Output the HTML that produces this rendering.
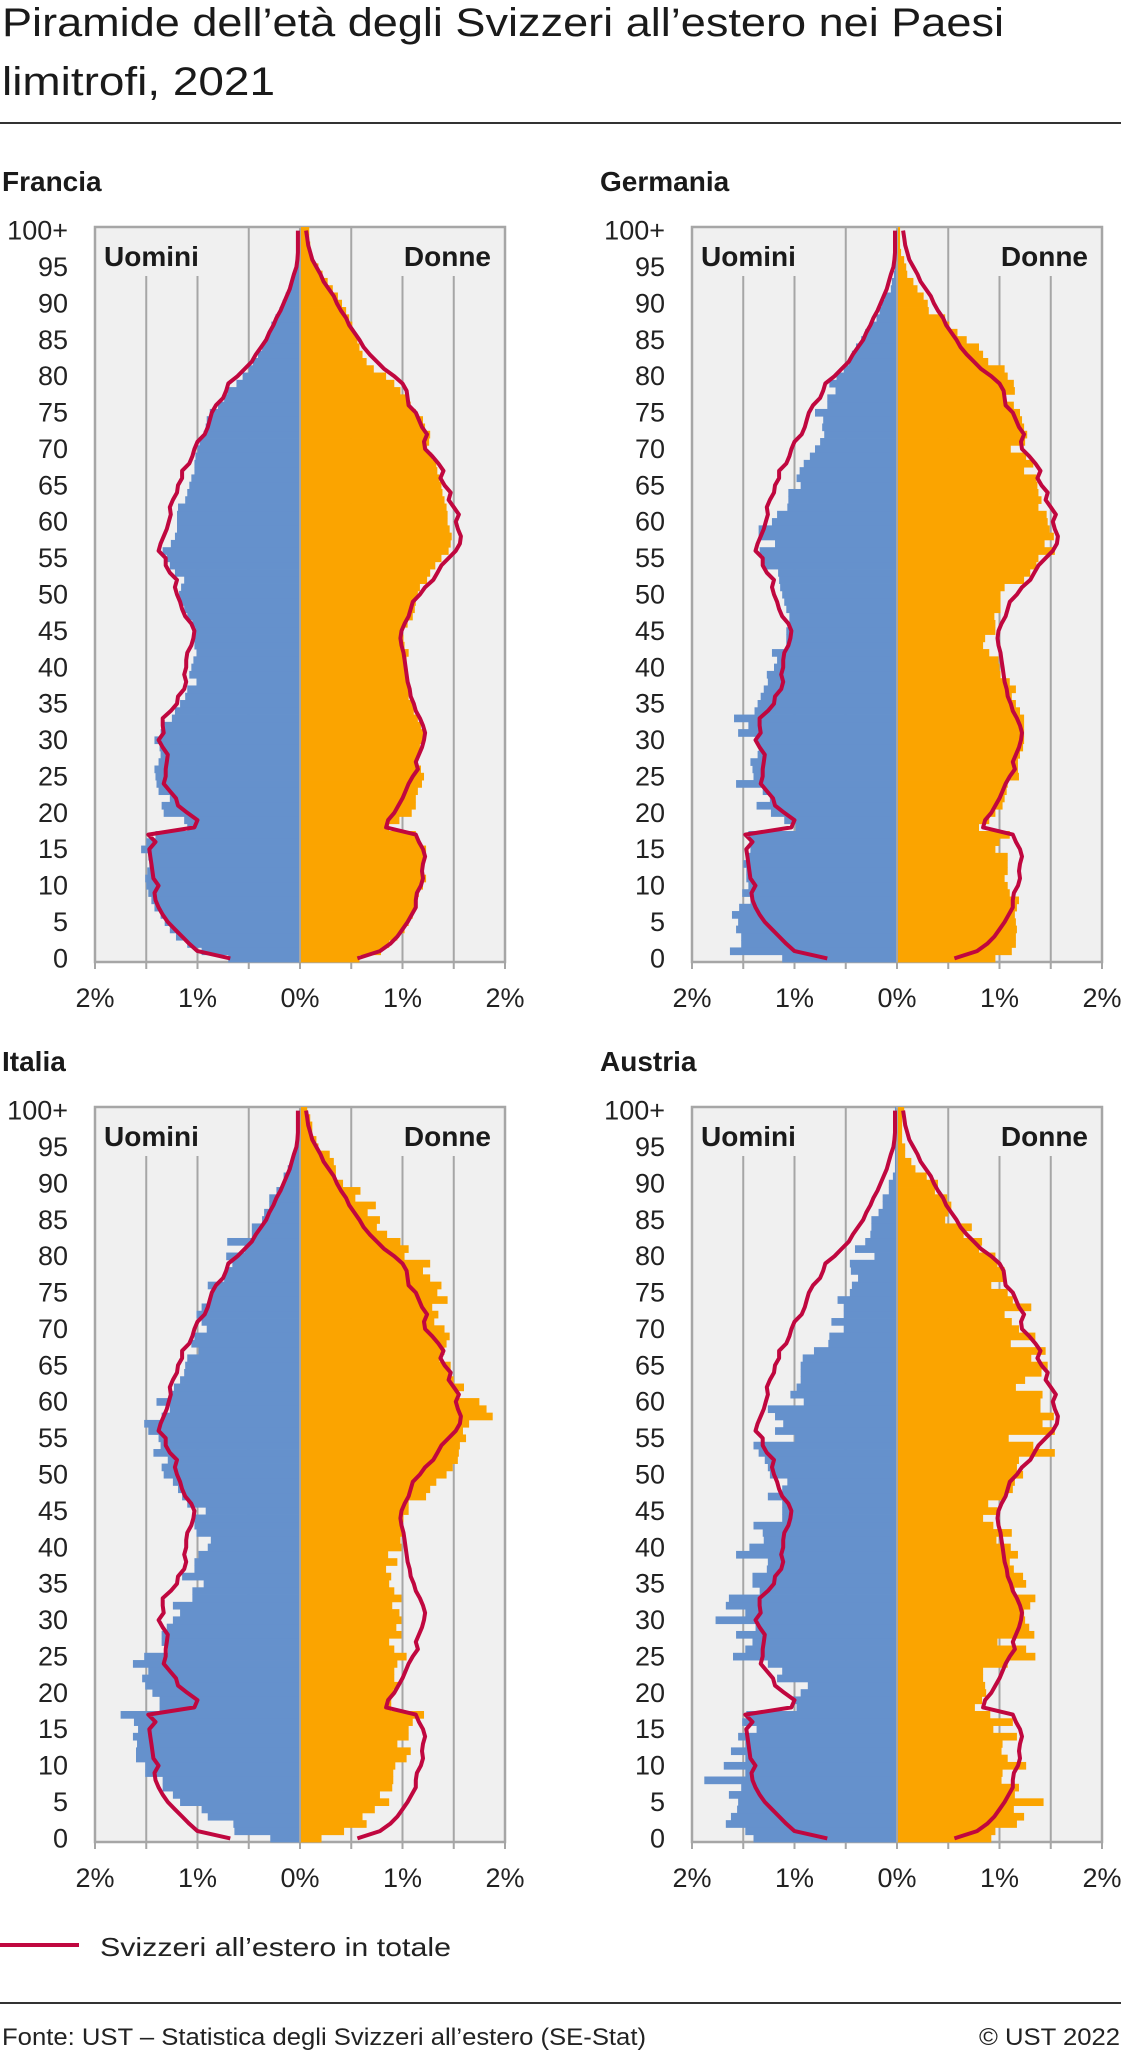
<!DOCTYPE html>
<html><head><meta charset="utf-8">
<style>
html,body{margin:0;padding:0;background:#fff;}
svg{display:block;font-family:"Liberation Sans",sans-serif;}
</style></head>
<body>
<svg id="chart" xmlns="http://www.w3.org/2000/svg" width="1121" height="2054" viewBox="0 0 1121 2054">
<text x="2" y="36" font-size="40" fill="#1a1a1a" textLength="1002" lengthAdjust="spacingAndGlyphs">Piramide dell’età degli Svizzeri all’estero nei Paesi</text>
<text x="2" y="95" font-size="40" fill="#1a1a1a" textLength="273" lengthAdjust="spacingAndGlyphs">limitrofi, 2021</text>
<rect x="0" y="122" width="1121" height="2" fill="#333"/>
<g id="panels"></g>
<rect x="0" y="1943" width="79" height="4" fill="#c0073f"/>
<text x="100" y="1956" font-size="26" fill="#222" textLength="351" lengthAdjust="spacingAndGlyphs">Svizzeri all’estero in totale</text>
<rect x="0" y="2002" width="1121" height="2" fill="#333"/>
<text x="2" y="2045" font-size="24" fill="#222" textLength="644" lengthAdjust="spacingAndGlyphs">Fonte: UST – Statistica degli Svizzeri all’estero (SE-Stat)</text>
<text x="1120" y="2045" font-size="24" fill="#222" text-anchor="end" textLength="141" lengthAdjust="spacingAndGlyphs">© UST 2022</text>
</svg>
<script>
// ages 0..100 (last = 100+)
const panelNames = ["Francia","Germania","Italia","Austria"];
const xTickLabels = ["2%","1%","0%","1%","2%"];
const xTickValues = [-2,-1,0,1,2];
const yTickAges = [0,5,10,15,20,25,30,35,40,45,50,55,60,65,70,75,80,85,90,95,100];
const yTickLabels = ["0","5","10","15","20","25","30","35","40","45","50","55","60","65","70","75","80","85","90","95","100+"];

const totalMen = [.68,1.0,1.08,1.15,1.22,1.29,1.34,1.38,1.41,1.42,1.38,1.43,1.44,1.45,1.46,1.47,1.41,1.48,1.03,1.00,1.10,1.19,1.21,1.27,1.33,1.31,1.31,1.30,1.29,1.34,1.38,1.33,1.34,1.34,1.26,1.20,1.19,1.13,1.11,1.13,1.11,1.11,1.10,1.06,1.04,1.03,1.06,1.12,1.15,1.17,1.20,1.22,1.20,1.27,1.31,1.31,1.38,1.36,1.33,1.30,1.28,1.26,1.27,1.24,1.20,1.19,1.15,1.15,1.08,1.05,1.03,1.0,.93,.90,.88,.86,.82,.75,.72,.70,.61,.54,.47,.43,.38,.33,.30,.26,.23,.19,.16,.13,.10,.08,.06,.035,.025,.02,.02,.02,.02];
const totalWomen = [.56,.78,.88,.95,1.0,1.05,1.09,1.13,1.13,1.14,1.18,1.20,1.19,1.20,1.22,1.20,1.16,1.13,.84,.86,.92,.96,1.0,1.03,1.06,1.10,1.15,1.13,1.16,1.19,1.21,1.22,1.20,1.17,1.13,1.11,1.08,1.07,1.05,1.04,1.03,1.02,1.01,.99,.98,.99,1.02,1.06,1.08,1.10,1.17,1.22,1.30,1.34,1.38,1.45,1.52,1.56,1.57,1.54,1.52,1.55,1.50,1.45,1.47,1.41,1.37,1.40,1.35,1.29,1.22,1.21,1.24,1.19,1.16,1.13,1.06,1.05,1.04,1.0,.92,.82,.75,.68,.62,.58,.53,.48,.45,.40,.36,.33,.28,.23,.20,.16,.12,.10,.08,.07,.06];

const franceMen = [.70,.96,1.10,1.21,1.27,1.32,1.36,1.42,1.45,1.48,1.50,1.51,1.49,1.47,1.48,1.55,1.50,1.41,1.10,1.13,1.33,1.35,1.27,1.38,1.40,1.41,1.42,1.38,1.36,1.37,1.42,1.36,1.33,1.25,1.22,1.17,1.12,1.10,1.01,1.08,1.06,1.04,1.01,1.03,1.03,1.02,1.05,1.10,1.13,1.17,1.18,1.16,1.13,1.22,1.27,1.30,1.34,1.26,1.22,1.20,1.20,1.20,1.19,1.12,1.10,1.08,1.06,1.03,1.03,1.02,1.00,.98,.94,.92,.91,.88,.80,.74,.71,.62,.56,.50,.46,.41,.37,.33,.30,.28,.24,.20,.17,.14,.11,.08,.06,.04,.03,.02,.02,.01,.01];
const franceWomen = [.58,.79,.87,.95,1.02,1.06,1.10,1.13,1.14,1.16,1.20,1.23,1.21,1.20,1.22,1.23,1.16,1.13,.87,.97,1.09,1.13,1.13,1.15,1.19,1.21,1.18,1.15,1.16,1.17,1.20,1.22,1.18,1.15,1.11,1.10,1.06,1.06,1.06,1.04,1.02,1.04,1.06,1.02,1.01,1.00,1.05,1.10,1.12,1.13,1.15,1.17,1.24,1.27,1.32,1.38,1.45,1.47,1.48,1.46,1.44,1.44,1.43,1.41,1.39,1.38,1.36,1.34,1.33,1.29,1.24,1.26,1.27,1.22,1.20,1.13,1.08,1.05,.98,.92,.84,.72,.65,.61,.58,.56,.53,.51,.48,.45,.41,.37,.32,.27,.22,.18,.13,.11,.10,.09,.09];
const germanyMen = [1.12,1.63,1.52,1.52,1.57,1.55,1.61,1.54,1.43,1.51,1.45,1.47,1.47,1.50,1.47,1.43,1.44,1.45,.99,1.10,1.23,1.37,1.24,1.31,1.57,1.40,1.41,1.43,1.36,1.35,1.38,1.55,1.45,1.59,1.39,1.36,1.33,1.30,1.26,1.27,1.20,1.17,1.22,1.08,1.08,1.08,1.05,1.05,1.08,1.10,1.12,1.14,1.15,1.16,1.30,1.31,1.34,1.19,1.35,1.35,1.22,1.17,1.07,1.06,1.06,.94,.98,.95,.91,.85,.80,.75,.71,.73,.72,.80,.68,.68,.60,.66,.59,.52,.47,.44,.40,.35,.31,.26,.20,.17,.15,.12,.06,.05,.03,.02,.02,.01,.01,.01,.01];
const germanyWomen = [.96,1.12,1.16,1.16,1.17,1.16,1.15,1.17,1.19,1.10,1.08,1.05,1.08,1.08,1.08,.96,1.00,1.10,.80,.90,.96,1.03,1.05,1.07,1.08,1.19,1.18,1.18,1.20,1.23,1.24,1.24,1.24,1.24,1.20,1.16,1.12,1.16,1.10,1.01,1.00,.99,.90,.84,.86,.96,.96,.95,1.01,1.01,1.01,1.05,1.24,1.30,1.36,1.38,1.54,1.44,1.53,1.49,1.47,1.46,1.38,1.41,1.38,1.37,1.36,1.24,1.33,1.26,1.11,1.25,1.27,1.24,1.22,1.20,1.14,1.05,1.15,1.14,1.08,1.05,.89,.84,.80,.68,.59,.51,.47,.31,.30,.26,.20,.16,.10,.09,.07,.04,.03,.03,.03];
const italyMen = [.29,.64,.65,.90,.96,1.17,1.24,1.34,1.34,1.51,1.51,1.60,1.60,1.59,1.63,1.58,1.62,1.75,1.37,1.37,1.44,1.51,1.54,1.48,1.63,1.52,1.29,1.35,1.35,1.30,1.24,1.17,1.24,1.05,1.05,.94,1.15,1.03,1.03,.99,.90,.87,1.01,1.03,1.03,.92,1.10,1.15,1.19,1.24,1.33,1.35,1.29,1.43,1.36,1.38,1.48,1.52,1.35,1.27,1.40,1.25,1.23,1.17,1.13,1.12,1.10,.99,1.06,1.03,.91,.96,1.01,.96,.87,.86,.90,.74,.73,.66,.72,.54,.71,.47,.47,.37,.35,.30,.30,.23,.16,.16,.12,.07,.05,.04,.03,.02,.02,.01,.01];
const italyWomen = [.21,.43,.65,.61,.73,.87,.78,.90,.91,.91,.93,1.04,1.08,.95,1.06,1.06,1.10,1.21,.89,.89,.91,.96,.92,.92,.95,1.04,.92,.87,.99,.94,.99,.97,.90,.99,.92,.87,.89,.84,.95,.86,.99,.98,1.00,1.00,1.01,1.06,1.06,1.23,1.27,1.33,1.43,1.49,1.54,1.55,1.56,1.62,1.59,1.65,1.88,1.82,1.75,1.55,1.60,1.50,1.45,1.47,1.36,1.41,1.43,1.46,1.41,1.31,1.35,1.29,1.44,1.34,1.38,1.27,1.20,1.27,1.02,1.06,.98,.85,.75,.78,.66,.74,.54,.59,.42,.35,.35,.33,.29,.18,.16,.12,.12,.10,.07];
const austriaMen = [1.40,1.48,1.67,1.62,1.56,1.55,1.64,1.52,1.88,1.48,1.69,1.48,1.62,1.48,1.55,1.37,1.51,1.47,.98,1.02,.94,.87,1.17,1.12,1.26,1.60,1.48,1.41,1.57,1.38,1.77,1.48,1.67,1.64,1.34,1.41,1.41,1.27,1.26,1.57,1.44,1.30,1.31,1.40,1.12,1.12,1.12,1.26,1.12,1.07,1.24,1.26,1.29,1.35,1.40,1.00,1.19,1.11,1.19,1.26,.91,1.04,.98,.94,.94,.94,.92,.81,.67,.66,.52,.64,.52,.52,.58,.46,.44,.38,.45,.46,.22,.41,.31,.26,.25,.25,.18,.14,.14,.08,.08,.04,.02,.02,.02,.02,.02,.02,.02,.02,.02];
const austriaWomen = [.92,.96,1.17,1.24,1.14,1.43,1.15,1.19,1.02,1.03,1.26,1.08,1.02,1.03,1.17,.94,1.13,.91,.76,.83,.87,.86,.84,.84,1.08,1.35,1.26,.98,1.34,1.29,1.25,1.24,1.30,1.35,1.15,1.26,1.23,1.14,1.10,1.18,1.11,.97,1.12,.94,.84,.98,.89,1.05,1.13,1.15,1.23,1.17,1.19,1.54,1.33,1.09,1.54,1.42,1.53,1.40,1.40,1.42,1.16,1.25,1.41,1.47,1.31,1.45,1.11,1.35,1.19,1.12,1.05,1.31,1.13,1.08,.92,1.04,1.05,.98,.96,.80,.83,.65,.73,.47,.50,.53,.49,.37,.40,.29,.18,.14,.08,.08,.05,.05,.05,.05,.07];

const menSeries = [franceMen, germanyMen, italyMen, austriaMen];
const womenSeries = [franceWomen, germanyWomen, italyWomen, austriaWomen];

const NS = "http://www.w3.org/2000/svg";
const layout = [{x0:95,y0:227,tx:2},{x0:692,y0:227,tx:600},{x0:95,y0:1107,tx:2},{x0:692,y0:1107,tx:600}];
const W = 410, H = 735, NROWS = 101, PCT = W/4, ROWH = H/NROWS;

function mk(tag, attrs, parent){
  const e = document.createElementNS(NS, tag);
  for (const k in attrs) e.setAttribute(k, attrs[k]);
  parent.appendChild(e);
  return e;
}
const root = document.getElementById('panels');

for (let p = 0; p < 4; p++) {
  const L = layout[p];
  const cx = L.x0 + W/2;
  const yBot = L.y0 + H;
  const xScale = v => cx + v*PCT;              // signed percent -> px
  const rowTop = a => yBot - (a+1)*ROWH;
  const rowMid = a => yBot - (a+0.5)*ROWH;

  const g = mk('g', {}, root);
  
  

  const title = mk('text', {x:L.tx, y:L.y0-36, 'font-size':28, 'font-weight':'bold', fill:'#1a1a1a'}, g);
  title.textContent = panelNames[p];
  
  

  const bg = mk('rect', {x:L.x0, y:L.y0, width:W, height:H, fill:'#f0f0f0'}, g);
  
  

  // gridlines every 0.5%
  for (let k = -4; k <= 4; k++) {
    const x = xScale(k*0.5);
    const hidden = (k===-3||k===-2||k===2||k===3);
    const gl = mk('line', {x1:x, x2:x, y1: hidden ? L.y0+49 : L.y0, y2:yBot+7, stroke:'#a6a6a6', 'stroke-width':2}, g);
    
    
  }
  const fr = mk('rect', {x:L.x0, y:L.y0, width:W, height:H, fill:'none', stroke:'#a6a6a6', 'stroke-width':2.5}, g);
  
  

  const men = menSeries[p], women = womenSeries[p];
  for (let a = 0; a < NROWS; a++) {
    const bm = mk('rect', {x:xScale(-men[a]), y:rowTop(a), width:cx - xScale(-men[a]), height:ROWH+0.4, fill:'#6591cc'}, g);
    
    
    const bw = mk('rect', {x:cx, y:rowTop(a), width:xScale(women[a]) - cx, height:ROWH+0.4, fill:'#fba400'}, g);
    
    
  }
  const cl = mk('line', {x1:cx, x2:cx, y1:L.y0, y2:yBot, stroke:'#a6a6a6', 'stroke-width':2}, g);
  
  

  const ptsM = totalMen.map((v,a) => xScale(-v).toFixed(1)+','+rowMid(a).toFixed(1)).join(' ');
  const ptsW = totalWomen.map((v,a) => xScale(v).toFixed(1)+','+rowMid(a).toFixed(1)).join(' ');
  const lm = mk('polyline', {points:ptsM, fill:'none', stroke:'#c0073f', 'stroke-width':4, 'stroke-linejoin':'round'}, g);
  
  
  const lw = mk('polyline', {points:ptsW, fill:'none', stroke:'#c0073f', 'stroke-width':4, 'stroke-linejoin':'round'}, g);
  
  

  const um = mk('text', {x:L.x0+9, y:L.y0+39, 'font-size':28, 'font-weight':'bold', fill:'#1a1a1a'}, g);
  um.textContent = 'Uomini';
  
  
  const dn = mk('text', {x:L.x0+W-14, y:L.y0+39, 'font-size':28, 'font-weight':'bold', fill:'#1a1a1a', 'text-anchor':'end'}, g);
  dn.textContent = 'Donne';
  
  

  for (let i = 0; i < yTickAges.length; i++) {
    const t = mk('text', {x:L.x0-27, y:rowMid(yTickAges[i])+9, 'font-size':27, fill:'#222', 'text-anchor':'end'}, g);
    t.textContent = yTickLabels[i];
    
    
  }
  for (let i = 0; i < xTickValues.length; i++) {
    const t = mk('text', {x:xScale(xTickValues[i]), y:yBot+45, 'font-size':27, fill:'#222', 'text-anchor':'middle'}, g);
    t.textContent = xTickLabels[i];
    
    
  }
}
</script>
</body></html>
